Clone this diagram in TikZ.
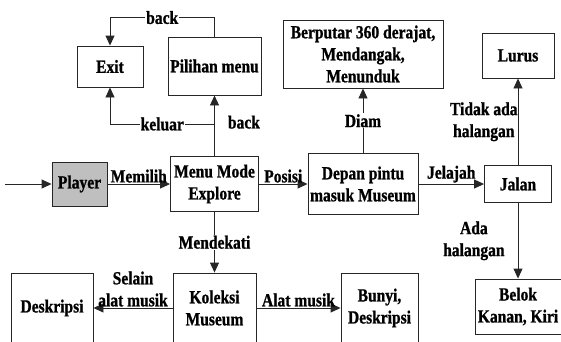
\documentclass[tikz,border=0pt]{standalone}
\usepackage{fontspec}
\setmainfont{Liberation Serif Bold}[FakeStretch=0.84,FakeBold=1]
\usetikzlibrary{arrows.meta}
\newcommand{\stage}[5]{\node[box,minimum width=#3pt,minimum height=#4pt] (#1) at #2 {#5};}

\begin{document}
\begin{tikzpicture}[
      x=1pt,y=-1pt,
      every node/.style={font=\fontsize{18.5}{22}\selectfont, align=center, inner sep=1pt},
      box/.style={rectangle,draw=black!85,line width=0.9pt,inner sep=0pt,fill=white},
      pointer/.style={line width=0.9pt,-{Triangle[length=10pt,width=9pt]},draw=black!85},
      lbl/.style={fill=white,inner sep=1pt}
      ]
      \useasboundingbox (0,0) rectangle (561,341);
      \stage{exit}{(110,66.5)}{66}{41}{Exit}
      \stage{pilihan}{(214.5,66)}{93}{58}{Pilihan menu}
      \stage{player}{(79.5,184)}{55}{44}{Player}
      \stage{menu}{(214.5,184)}{88}{55}{Menu Mode\\Explore}
      \stage{depan}{(363,184)}{110}{61}{Depan pintu\\masuk Museum}
      \stage{jalan}{(518,184)}{67}{37}{Jalan}
      \stage{putar}{(363,54)}{160}{68}{Berputar 360 derajat,\\Mendangak,\\Menunduk}
      \stage{lurus}{(518,55.5)}{72}{45}{Lurus}
      \stage{deskripsi}{(52,308)}{82}{70}{Deskripsi}
      \stage{koleksi}{(214.5,308)}{83}{70}{Koleksi\\Museum}
      \stage{bunyi}{(379.5,308)}{77}{70}{Bunyi,\\Deskripsi}
      \stage{belok}{(518,306.5)}{86}{55}{Belok\\Kanan, Kiri}
      \node[box,fill=black!25,minimum width=55pt,minimum height=44pt] at (player) {Player};
      \coordinate (start) at (5,184);
      \coordinate (split) at (pilihan.south |- 0,124);
      \draw[pointer] (start) -- (player);
      \draw[pointer] (player) -- node[above]{Memilih} (menu);
      \draw[pointer] (menu) -- node[above]{Posisi} (depan);
      \draw[pointer] (depan) -- node[above]{Jelajah} (jalan);
      \draw[pointer] (menu) -- node[pos=0.56,right=12pt]{back} (pilihan);
      \draw[pointer] (split) -| node[pos=0.25,lbl]{keluar} (exit);
      \draw[pointer] (pilihan.north) -- ++(0,-19) -| node[pos=0.25,lbl]{back} (exit.north);
      \draw[pointer] (depan) -- node[lbl]{Diam} (putar);
      \draw[pointer] (jalan) -- node[left,inner xsep=0pt]{Tidak ada\\halangan} (lurus);
      \draw[pointer] (jalan) -- node[left=12pt]{Ada\\halangan} (belok);
      \draw[pointer] (menu) -- node[lbl]{Mendekati} (koleksi);
      \draw[pointer] (koleksi) -- node[above]{Selain\\alat musik} (deskripsi);
      \draw[pointer] (koleksi) -- node[above]{Alat musik} (bunyi);
    \end{tikzpicture}
\end{document}
